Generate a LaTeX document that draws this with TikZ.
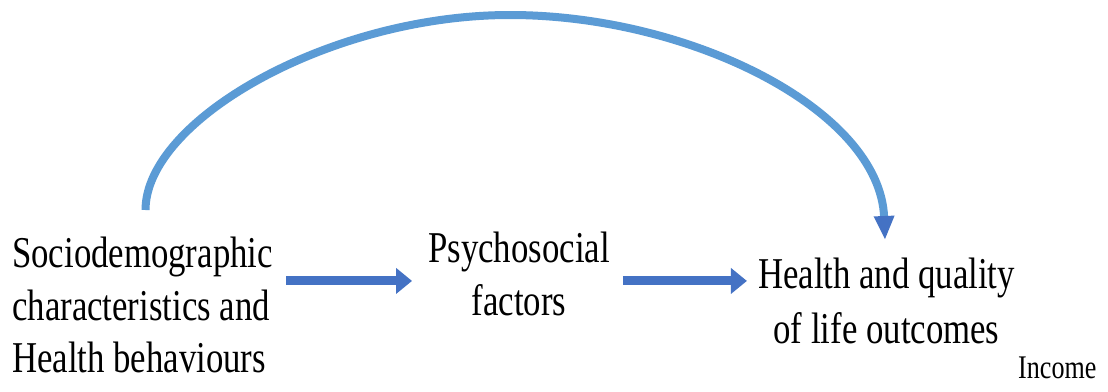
\documentclass[tikz,border=0pt]{standalone}
\usepackage{fontspec}
\setmainfont{Liberation Serif}[FakeStretch=0.79]
\usetikzlibrary{arrows.meta}
\definecolor{flowblue}{HTML}{4472C4}
\definecolor{arcblue}{HTML}{5B9BD5}
\begin{document}
\begin{tikzpicture}[x=1pt,y=-1pt,
  label text/.style={inner sep=0pt, font=\fontsize{44}{52.5}\selectfont},
  flow/.style={draw=flowblue, line width=9pt,
    -{Triangle[length=16pt, width=25pt, color=flowblue]}},
  bigarc/.style={draw=arcblue, line width=8pt,
    -{Triangle[length=24pt, width=19pt, color=flowblue]}}]
\useasboundingbox (0,0) rectangle (1108,391);
\fill[white] (0,0) rectangle (1108,391);

% the three stages of the model
\node[label text, anchor=north west, align=left] (left) at (12,237)
  {Sociodemographic\\characteristics and\\Health behaviours};
\node[label text, anchor=north, align=center] (psych) at (519,232)
  {Psychosocial\\factors};
\node[label text, anchor=north, align=center, font=\fontsize{44}{55}\selectfont] (health) at (886.5,258)
  {Health and quality\\of life outcomes};
\node[inner sep=0pt, anchor=base west, font=\fontsize{33}{40}\selectfont] (income) at (1018,378) {Income};

% straight arrows between the stages
\path (psych.center) ++(0,7) coordinate (lvl);
\draw[flow, shorten <=13pt, shorten >=16pt] (left.east |- lvl) -- (psych.west |- lvl);
\draw[flow, shorten <=13pt, shorten >=11pt] (psych.east |- lvl) -- (health.west |- lvl);

% direct path over the top
\coordinate (arcstart) at ([shift={(3,-27)}]left.north);
\coordinate (arcend) at ([shift={(-1.5,-18)}]health.north);
\coordinate (arctop) at (510,15);
\draw[bigarc] (arcstart) .. controls +(0,-90) and +(-180,0) .. (arctop)
  .. controls +(180,0) and +(-5,-130) .. (arcend);
\end{tikzpicture}
\end{document}
